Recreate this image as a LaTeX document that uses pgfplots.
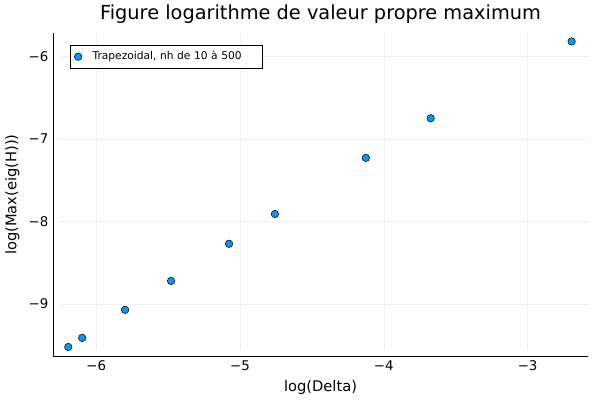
\documentclass[border=0pt]{standalone}
\usepackage{pgfplots}
\pgfplotsset{compat=1.18}
\usepackage{fontspec}
\setmainfont{DejaVu Sans}
\definecolor{jblue}{HTML}{009AFA}
\begin{document}
\begin{tikzpicture}
\begin{axis}[
  scale only axis, width=401pt, height=242pt,
  xmin=-6.30, xmax=-2.58, ymin=-9.63, ymax=-5.72,
  axis x line*=bottom, axis y line*=left,
  axis line style={black, -},
  xtick={-6,-5,-4,-3}, ytick={-9,-8,-7,-6},
  tick style={black!0},
  grid=major, grid style={black!6, line width=0.4pt},
  ticklabel style={font=\fontsize{10}{12}\selectfont},
  /pgf/number format/assume math mode=true,
  xticklabel={\pgfmathparse{-\tick}−\pgfmathprintnumber{\pgfmathresult}},
  yticklabel={\pgfmathparse{-\tick}−\pgfmathprintnumber{\pgfmathresult}},
  xlabel={log(Delta)}, ylabel={log(Max(eig(H)))},
  label style={font=\fontsize{11}{13}\selectfont},
  title={Figure logarithme de valeur propre maximum},
  title style={font=\fontsize{14.5}{17}\selectfont, yshift=-2pt},
  legend style={font=\fontsize{8}{10}\selectfont, draw=black, at={(0.032,0.965)}, anchor=north west, inner sep=3pt,
    nodes={text width=128pt, align=left}},
  legend image post style={xshift=4pt},
  legend cell align=left,
]
\addplot[only marks, mark=*, mark size=2.8pt, mark options={fill=jblue, draw=black, line width=0.4pt}]
coordinates {(-6.194,-9.52) (-6.097,-9.41) (-5.799,-9.07) (-5.479,-8.72) (-5.076,-8.27) (-4.757,-7.91) (-4.125,-7.23) (-3.674,-6.75) (-2.694,-5.82)};
\addlegendentry{\hspace{6pt}Trapezoidal, nh de 10 à 500}
\end{axis}
\path (current axis.south west) ++(-39.75pt,-33.75pt) coordinate (a);
\path (current axis.north east) ++(9pt,24pt) coordinate (b);
\useasboundingbox (a) rectangle (b);
\end{tikzpicture}
\end{document}
